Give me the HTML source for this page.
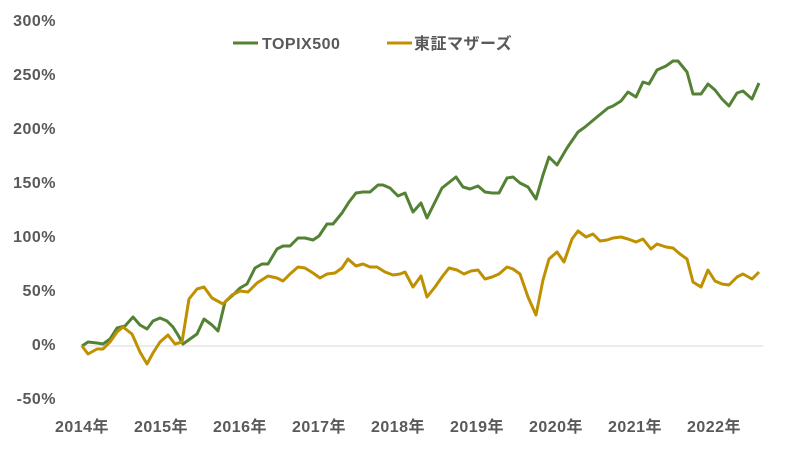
<!DOCTYPE html>
<html><head><meta charset="utf-8"><style>
body{margin:0;background:#fff}
svg text{font-family:"Liberation Sans","Noto Sans CJK JP",sans-serif;font-weight:bold;font-size:16px;letter-spacing:0.5px;fill:#595959}
</style></head><body>
<svg width="801" height="447" xmlns="http://www.w3.org/2000/svg">
<line x1="80" y1="346" x2="763" y2="346" stroke="#d9d9d9" stroke-width="1"/>
<g text-anchor="end">
<text x="56" y="26">300%</text><text x="56" y="80">250%</text><text x="56" y="134">200%</text>
<text x="56" y="188">150%</text><text x="56" y="242">100%</text><text x="56" y="296">50%</text>
<text x="56" y="350">0%</text><text x="56" y="404">-50%</text>
</g>
<g text-anchor="middle">
<text x="82" y="432">2014年</text><text x="161" y="432">2015年</text><text x="240" y="432">2016年</text>
<text x="319" y="432">2017年</text><text x="398" y="432">2018年</text><text x="477" y="432">2019年</text>
<text x="556" y="432">2020年</text><text x="635" y="432">2021年</text><text x="714" y="432">2022年</text>
</g>
<line x1="233" y1="43" x2="258" y2="43" stroke="#548235" stroke-width="3"/>
<text x="262" y="49">TOPIX500</text>
<line x1="387" y1="43" x2="412" y2="43" stroke="#bf9000" stroke-width="3"/>
<text x="414" y="49">東証マザーズ</text>
<polyline fill="none" stroke="#548235" stroke-width="3" stroke-linejoin="round" points="82,346 88,342 97,343 103,344 110,339 117,328 125,326 133,317 140,325 147,329 153,321 160,318 167,321 173,327 178,335 183,344 190,339 197,334 204,319 212,325 218,331 225,302 233,295 240,288 247,284 255,268 262,264 268,264 277,249 283,246 290,246 298,238 305,238 313,240 319,236 327,224 333,224 342,213 349,202 356,193 363,192 370,192 378,185 383,185 390,188 398,196 405,193 413,212 421,203 427,218 442,188 456,177 463,187 470,189 478,186 485,192 492,193 499,193 507,178 513,177 520,183 528,187 536,199 543,175 549,157 557,165 567,148 578,132 585,127 597,117 608,108 613,106 621,101 628,92 636,97 643,82 649,84 657,70 666,66 673,61 678,61 687,72 693,94 701,94 708,84 715,90 722,99 729,106 737,93 743,91 752,99 759,83"/>
<polyline fill="none" stroke="#bf9000" stroke-width="3" stroke-linejoin="round" points="82,346 88,354 97,349 103,349 110,342 117,332 123,327 132,334 140,352 147,364 153,353 160,342 168,335 175,344 182,342 189,299 197,289 204,287 212,298 223,304 232,295 240,291 248,292 257,283 268,276 277,278 283,281 290,274 298,267 305,268 313,273 320,278 327,274 335,273 342,268 348,259 356,266 363,264 370,267 377,267 385,272 393,275 400,274 405,272 413,287 421,276 427,297 435,287 442,277 449,268 457,270 464,274 471,271 478,270 485,279 492,277 499,274 507,267 513,269 520,274 528,297 536,315 543,280 549,259 557,252 564,262 572,239 578,231 586,237 593,234 600,241 607,240 613,238 621,237 628,239 636,242 643,239 651,249 657,244 666,247 673,248 680,254 687,259 693,282 701,287 708,270 715,281 722,284 729,285 737,277 743,274 752,279 759,272"/>
</svg>
</body></html>
